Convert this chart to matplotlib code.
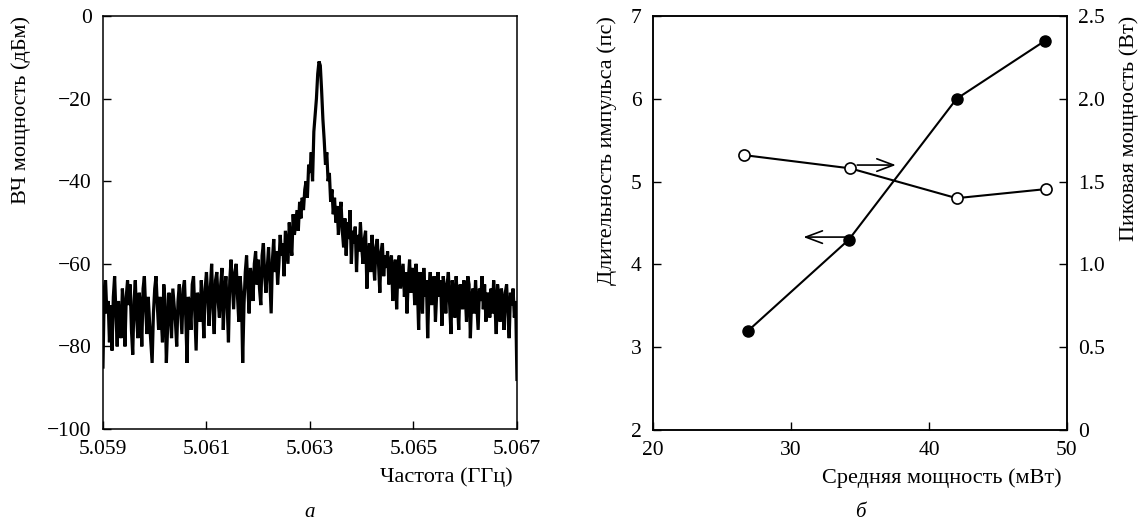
import matplotlib
matplotlib.use("Agg")
import matplotlib.pyplot as plt
import numpy as np

plt.rcParams["font.family"] = ["Liberation Serif", "DejaVu Serif"]
plt.rcParams["font.size"] = 14

# --- panel a: RF spectrum (dBm), 25 kHz step ---
freq_start, freq_stop = 5.059, 5.067
rf_power = [
    -85, -66, -64, -72, -69, -79, -70, -81, -68, -63, -72, -80, -69, -74, -78, -66, -71, -80, -68, -64,
    -70, -65, -76, -82, -69, -64, -73, -78, -67, -70, -80, -66, -63, -71, -77, -68, -74, -79, -84, -72,
    -66, -63, -70, -76, -68, -73, -79, -65, -69, -84, -75, -67, -72, -78, -66, -70, -74, -80, -69, -65,
    -71, -77, -66, -64, -73, -84, -68, -70, -76, -65, -63, -72, -81, -67, -69, -74, -64, -70, -78, -66,
    -62, -68, -75, -66, -60, -71, -77, -64, -62, -69, -73, -65, -61, -76, -67, -63, -70, -79, -64, -59,
    -65, -71, -62, -60, -68, -74, -63, -67, -84, -70, -62, -58, -66, -72, -61, -64, -69, -60, -57, -65,
    -59, -66, -70, -58, -55, -63, -67, -61, -56, -64, -72, -59, -54, -62, -57, -65, -60, -53, -58, -55,
    -63, -52, -56, -60, -50, -55, -58, -48, -53, -50, -47, -52, -45, -49, -44, -47, -42, -40, -44, -36,
    -38, -33, -40, -28, -24, -20, -14, -11, -12, -18, -25, -30, -36, -33, -40, -38, -45, -42, -48, -44,
    -50, -46, -53, -48, -45, -52, -56, -49, -58, -50, -54, -47, -60, -52, -55, -51, -62, -53, -57, -50,
    -56, -60, -54, -52, -66, -58, -55, -62, -53, -59, -64, -56, -54, -60, -67, -57, -55, -63, -58, -61,
    -57, -65, -60, -58, -69, -62, -59, -71, -61, -58, -66, -63, -60, -68, -62, -72, -64, -59, -67, -61,
    -63, -70, -60, -65, -76, -62, -66, -72, -61, -68, -64, -78, -66, -62, -70, -65, -63, -74, -67, -62,
    -68, -64, -75, -63, -66, -72, -65, -62, -70, -77, -64, -67, -73, -63, -69, -76, -65, -66, -71, -64,
    -67, -74, -63, -65, -78, -68, -66, -72, -64, -70, -76, -66, -69, -63, -71, -65, -74, -67, -68, -73,
    -66, -72, -64, -70, -77, -65, -68, -74, -66, -69, -76, -67, -65, -72, -78, -67, -70, -66, -73, -69, -88,
]
freq = np.linspace(freq_start, freq_stop, len(rf_power))

# --- panel b: pulse duration and peak power vs average power ---
avg_power_dur = [26.9, 34.2, 42.0, 48.4]
pulse_dur = [3.2, 4.3, 6.0, 6.7]
avg_power_peak = [26.6, 34.3, 42.0, 48.5]
peak_power = [1.66, 1.58, 1.40, 1.455]

fig = plt.figure(figsize=(11.48, 5.23), dpi=100)

tick_kw = dict(direction="in", length=6, width=1, pad=8, labelsize=15.5)

# panel a
ax1 = fig.add_axes([0.0897, 0.1797, 0.3606, 0.7897])
ax1.plot(freq, rf_power, color="black", lw=2.3, solid_joinstyle="miter")
ax1.set_xlim(freq_start, freq_stop)
ax1.set_ylim(-100, 0)
ax1.set_xticks([5.059, 5.061, 5.063, 5.065, 5.067])
ax1.set_xticklabels(["5.059", "5.061", "5.063", "5.065", "5.067"])
ax1.set_yticks([0, -20, -40, -60, -80, -100])
ax1.set_yticklabels(["0", "\u221220", "\u221240", "\u221260", "\u221280", "\u2212100"])
ax1.tick_params(**tick_kw)
ax1.set_xlabel("Частота (ГГц)", loc="right", labelpad=6, fontsize=16)
ax1.xaxis.label.set_x(0.99)
ax1.set_ylabel("ВЧ мощность (дБм)", loc="top", labelpad=12, fontsize=16)
ax1.text(0.5, -0.201, "а", transform=ax1.transAxes, ha="center", va="center",
         style="italic", fontsize=15)

# panel b
ax2 = fig.add_axes([0.5688, 0.1778, 0.3606, 0.7916])
ax2.plot(avg_power_dur, pulse_dur, color="black", lw=1.5, marker="o",
         markersize=8, markerfacecolor="black", markeredgecolor="black")
ax2.set_xlim(20, 50)
ax2.set_ylim(2, 7)
ax2.set_xticks([20, 30, 40, 50])
ax2.set_yticks([2, 3, 4, 5, 6, 7])
ax2.tick_params(**tick_kw)
ax2.set_xlabel("Средняя мощность (мВт)", loc="right", labelpad=6, fontsize=16)
ax2.xaxis.label.set_x(0.988)
ax2.set_ylabel("Длительность импульса (пс)", loc="top", labelpad=10, fontsize=16)
ax2.text(0.5, -0.199, "б", transform=ax2.transAxes, ha="center", va="center",
         style="italic", fontsize=15)

ax3 = ax2.twinx()
ax3.plot(avg_power_peak, peak_power, color="black", lw=1.5, marker="o",
         markersize=8, markerfacecolor="white", markeredgecolor="black",
         markeredgewidth=1.2)
ax3.set_ylim(0, 2.5)
ax3.set_yticks([0, 0.5, 1.0, 1.5, 2.0, 2.5])
ax3.set_yticklabels(["0", "0.5", "1.0", "1.5", "2.0", "2.5"])
ax3.tick_params(**tick_kw)
ax3.set_ylabel("Пиковая мощность (Вт)", loc="top", labelpad=10, fontsize=16)

arrow = dict(arrowstyle="->,head_length=0.8,head_width=0.3", color="black",
             lw=1.2, mutation_scale=15, shrinkA=0, shrinkB=0)
ax2.annotate("", xy=(30.9, 4.33), xytext=(33.9, 4.33), arrowprops=arrow)
ax3.annotate("", xy=(37.6, 1.6), xytext=(34.8, 1.6), arrowprops=arrow)

for ax in (ax1, ax2, ax3):
    for s in ax.spines.values():
        s.set_linewidth(1.1)

fig.savefig("out.png", dpi=100)
